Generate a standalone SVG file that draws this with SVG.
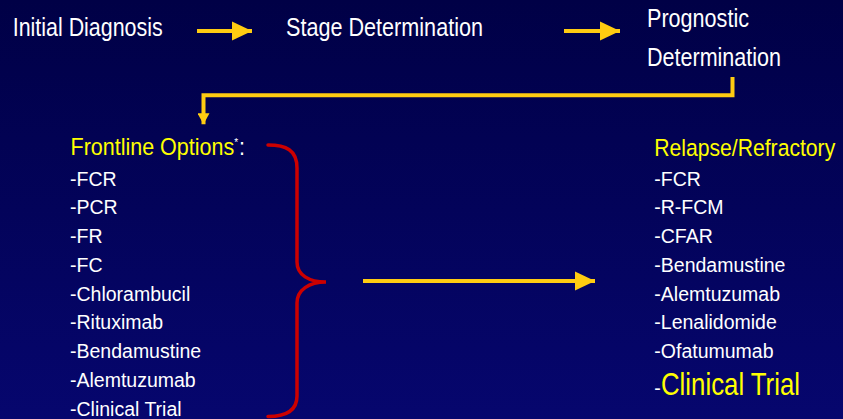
<svg xmlns="http://www.w3.org/2000/svg" width="843" height="419" viewBox="0 0 843 419">
<defs>
<linearGradient id="bg" x1="0" y1="0" x2="0" y2="1">
<stop offset="0" stop-color="#000046"/>
<stop offset="1" stop-color="#06066e"/>
</linearGradient>
<marker id="ah" markerUnits="userSpaceOnUse" markerWidth="20" markerHeight="20" viewBox="0 0 20 20" refX="20" refY="10" orient="auto">
<path d="M0,0.5 L20,10 L0,19.5 Z" fill="#ffcc11"/>
</marker>
<marker id="ahs" markerUnits="userSpaceOnUse" markerWidth="11" markerHeight="12" viewBox="0 0 11 12" refX="11" refY="6" orient="auto">
<path d="M0,0 L11,6 L0,12 Z" fill="#ffcc11"/>
</marker>
<style>
text { font-family: "Liberation Sans", Arial, sans-serif; fill: #ffffff; }
.top { font-size: 26px; }
.hd { font-size: 23.5px; fill: #ffff00; }
.li { font-size: 19.5px; }
.big { font-size: 31.5px; fill: #ffff00; }
.conn { stroke: #ffcc11; stroke-width: 4; fill: none; }
.brace { stroke: #cc0000; stroke-width: 3.5; fill: none; stroke-linecap: round; }
</style>
</defs>
<rect x="0" y="0" width="843" height="419" fill="url(#bg)"/>

<g id="connectors">
<line class="conn" x1="197" y1="31" x2="252" y2="31" marker-end="url(#ah)"/>
<line class="conn" x1="564" y1="31" x2="620" y2="31" marker-end="url(#ah)"/>
<polyline class="conn" points="732.5,77 732.5,95.3 203.5,95.3 203.5,124.3" marker-end="url(#ahs)"/>
<line class="conn" x1="363" y1="281" x2="595" y2="281" marker-end="url(#ah)"/>
</g>

<g id="initial-diagnosis">
<text class="top" x="12.7" y="36" textLength="150" lengthAdjust="spacingAndGlyphs">Initial Diagnosis</text>
</g>
<g id="stage-determination">
<text class="top" x="286" y="36" textLength="197" lengthAdjust="spacingAndGlyphs">Stage Determination</text>
</g>
<g id="prognostic-determination">
<text class="top" x="647" y="27.3" textLength="102" lengthAdjust="spacingAndGlyphs">Prognostic</text>
<text class="top" x="647" y="65.7" textLength="134" lengthAdjust="spacingAndGlyphs">Determination</text>
</g>

<g id="frontline-options">
<text transform="translate(70.5,155) scale(0.915,1)" x="0" y="0" style="font-size:23.5px"><tspan style="fill:#ffff00">Frontline Options</tspan><tspan dy="-9" style="font-size:11px">*</tspan><tspan dy="9" dx="1">:</tspan></text>
<text class="li" x="70" y="185.7">-FCR</text>
<text class="li" x="70" y="214.4">-PCR</text>
<text class="li" x="70" y="243.2">-FR</text>
<text class="li" x="70" y="271.9">-FC</text>
<text class="li" x="70" y="300.7">-Chlorambucil</text>
<text class="li" x="70" y="329.4">-Rituximab</text>
<text class="li" x="70" y="358.2">-Bendamustine</text>
<text class="li" x="70" y="386.9">-Alemtuzumab</text>
<text class="li" x="70" y="415.7">-Clinical Trial</text>
<path class="brace" d="M268,145 C286,145 297,150 297,168 L297,262 C297,275 309,282 326,282 C309,282 297,290 297,303 L297,396 C297,411 286,416.5 268,416.5"/>
</g>

<g id="relapse-refractory">
<text class="hd" transform="translate(654.3,156) scale(0.9,1)" x="0" y="0">Relapse/Refractory</text>
<text class="li" x="654.3" y="185.7">-FCR</text>
<text class="li" x="654.3" y="214.4">-R-FCM</text>
<text class="li" x="654.3" y="243.2">-CFAR</text>
<text class="li" x="654.3" y="271.9">-Bendamustine</text>
<text class="li" x="654.3" y="300.7">-Alemtuzumab</text>
<text class="li" x="654.3" y="329.4">-Lenalidomide</text>
<text class="li" x="654.3" y="358.2">-Ofatumumab</text>
<text class="li" x="654.3" y="394.5">-</text>
<text class="big" x="661" y="394.5" textLength="139" lengthAdjust="spacingAndGlyphs">Clinical Trial</text>
</g>
</svg>
